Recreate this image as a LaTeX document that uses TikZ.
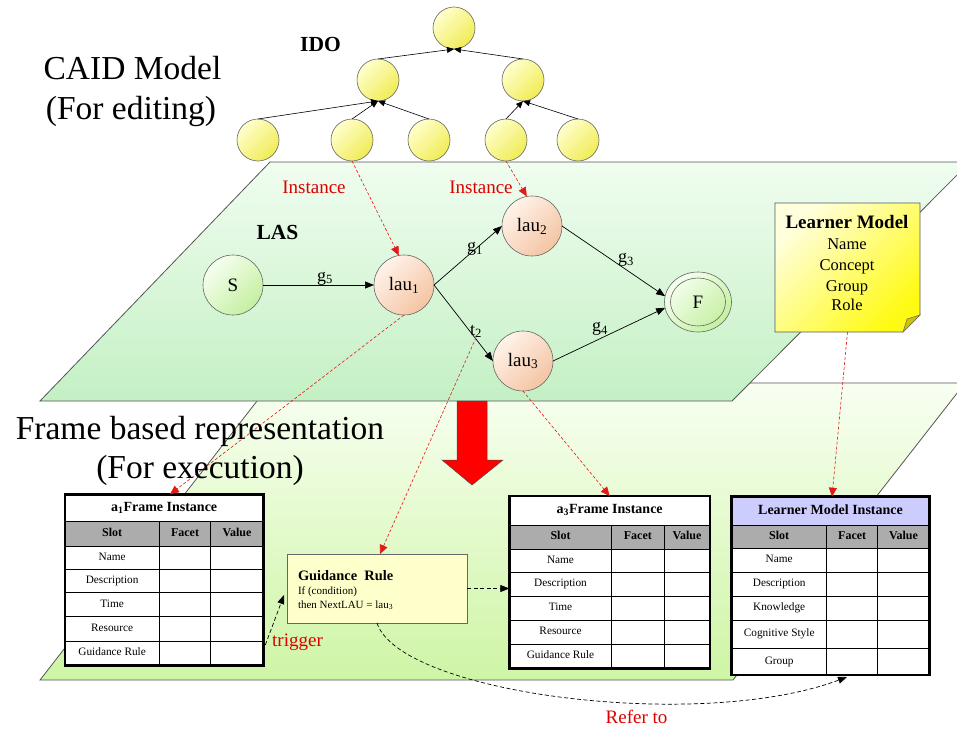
\documentclass[tikz,border=0pt]{standalone}
\usepackage{fontspec}
\setmainfont{Liberation Serif}
\usetikzlibrary{arrows.meta,shapes.geometric}
\definecolor{linkred}{RGB}{225,25,25}
\definecolor{txtred}{RGB}{220,0,0}
\definecolor{planeedge}{RGB}{85,85,85}
\definecolor{upA}{RGB}{240,253,240}
\definecolor{upB}{RGB}{196,240,196}
\definecolor{loA}{RGB}{248,255,242}
\definecolor{loB}{RGB}{206,245,165}
\definecolor{yelA}{RGB}{255,255,205}
\definecolor{yelB}{RGB}{240,236,85}
\definecolor{peachA}{RGB}{255,243,234}
\definecolor{peachB}{RGB}{244,196,162}
\definecolor{greenA}{RGB}{246,255,240}
\definecolor{greenB}{RGB}{196,240,160}
\definecolor{noteA}{RGB}{255,255,222}
\definecolor{noteB}{RGB}{255,250,20}
\definecolor{flapcol}{RGB}{205,195,0}
\definecolor{rulefill}{RGB}{255,255,204}
\definecolor{headgray}{RGB}{172,172,172}
\definecolor{lavender}{RGB}{204,204,255}
\definecolor{bigred}{RGB}{255,0,0}
\begin{document}
\begin{tikzpicture}[x=1pt,y=-1pt,
  every node/.style={inner sep=0pt,outer sep=0pt},
  ido/.style={circle,minimum size=42pt,draw=black!60,line width=0.6pt,top color=yelA,bottom color=yelB,shading angle=45},
  lau/.style={circle,minimum size=60pt,draw=black!60,line width=0.6pt,top color=peachA,bottom color=peachB,shading angle=45,font=\fontsize{19}{19}\selectfont},
  startpt/.style={circle,minimum size=60pt,draw=black!60,line width=0.6pt,top color=greenA,bottom color=greenB,shading angle=45,font=\fontsize{19}{19}\selectfont},
  finalpt/.style={ellipse,minimum width=67pt,minimum height=60pt,draw=black!60,line width=0.6pt,top color=greenA,bottom color=greenB,shading angle=45,font=\fontsize{19}{19}\selectfont},
  treeedge/.style={-{Triangle[length=7pt,width=6pt]},line width=0.6pt},
  lasedge/.style={-{Triangle[length=9pt,width=7pt]},line width=0.7pt},
  redlink/.style={draw=linkred,dash pattern=on 3pt off 2pt,line width=0.6pt,-{Triangle[length=9pt,width=8pt]}},
  blklink/.style={dash pattern=on 4pt off 2.5pt,line width=0.7pt,-{Triangle[length=9pt,width=7pt]}},
  elabel/.style={anchor=base,font=\fontsize{18}{18}\selectfont},
  redtxt/.style={anchor=base,text=txtred,font=\fontsize{19}{19}\selectfont},
  bigtxt/.style={anchor=base,font=\fontsize{33.5}{38}\selectfont},
  boldlbl/.style={anchor=base,font=\fontsize{21.5}{22}\selectfont\bfseries},
  cell/.style={font=\fontsize{11.3}{12}\selectfont,text height=7.6pt,text depth=2.4pt},
  headcell/.style={font=\fontsize{12}{13}\selectfont\bfseries,text height=8pt,text depth=2.4pt},
  tabtitle/.style={font=\fontsize{14}{15}\selectfont\bfseries,text height=9.5pt,text depth=3pt},
  tabbox/.style={fill=white},
  rule/.style={line width=0.8pt},
  tabborder/.style={line width=2.6pt},
  plane/.style={draw=planeedge,line width=0.8pt},
]
\clip (0,0) rectangle (957,728);
\fill[white] (0,0) rectangle (957,728);

% the two layers
\path[plane,top color=loA,bottom color=loB] (271,383) -- (965,383) -- (733,680) -- (40,680) -- cycle;
\path[plane,top color=upA,bottom color=upB] (270,162) -- (970,162) -- (732,401) -- (40,401) -- cycle;

% arrow between the layers
\path[fill=bigred,draw=black!70,line width=0.5pt] (457,401) -- (487,401) -- (487,460) -- (503,460) -- (472,485) -- (442,460) -- (457,460) -- cycle;

% IDO tree
\node[ido] (root) at (454,28) {};
\node[ido] (m1) at (378,80) {};
\node[ido] (m2) at (523,80) {};
\node[ido] (c1) at (258,140) {};
\node[ido] (c2) at (352,140) {};
\node[ido] (c3) at (429,140) {};
\node[ido] (c4) at (506,140) {};
\node[ido] (c5) at (578,140) {};
\draw[treeedge] (m1.north) -- (root.south);
\draw[treeedge] (m2.north) -- (root.south);
\draw[treeedge] (c1.north) -- (m1.south);
\draw[treeedge] (c2.north) -- (m1.south);
\draw[treeedge] (c3.north) -- (m1.south);
\draw[treeedge] (c4.north) -- (m2.south);
\draw[treeedge] (c5.north) -- (m2.south);
\node[boldlbl] (ido) at (320.5,51.7) {IDO};

% learning activity sequence
\node[startpt] (S) at (233,285) {S};
\node[lau] (lau1) at (404,285) {lau\textsubscript{1}};
\node[lau] (lau2) at (532,226) {lau\textsubscript{2}};
\node[lau] (lau3) at (523,361) {lau\textsubscript{3}};
\node[finalpt] (F) at (698,302) {F};
\draw[line width=0.6pt,draw=black!60] (F.center) ellipse [x radius=27.5pt,y radius=24pt];
\draw[lasedge] (S.east) -- (lau1.west);
\draw[lasedge] (lau1.east) -- (lau2.west);
\draw[lasedge] (lau1.east) -- (lau3.west);
\draw[lasedge] (lau2.east) -- (F.170);
\draw[lasedge] (lau3.east) -- (F.190);
\node[elabel] (lg5) at (325,281) {g\textsubscript{5}};
\node[elabel] (lg1) at (475,251.7) {g\textsubscript{1}};
\node[elabel] (lg3) at (626,262.7) {g\textsubscript{3}};
\node[elabel] (lt2) at (476,335) {t\textsubscript{2}};
\node[elabel] (lg4) at (600,331.7) {g\textsubscript{4}};
\node[boldlbl] (las) at (277.5,239) {LAS};
\node[redtxt] (inst1) at (314,193.3) {Instance};
\node[redtxt] (inst2) at (481,193.3) {Instance};

% learner model note
\node[minimum width=145pt,minimum height=129pt] (lmnote) at (847.5,267.5) {};
\path[draw=black!65,line width=0.6pt,top color=noteA,bottom color=noteB,shading angle=45]
  (lmnote.north west) -- (lmnote.north east) -- ([yshift=17pt]lmnote.south east)
  -- ([xshift=-17pt]lmnote.south east) -- (lmnote.south west) -- cycle;
\path[fill=flapcol,draw=black!60,line width=0.5pt] ([xshift=-17pt]lmnote.south east)
  -- ([xshift=-13pt,yshift=13pt]lmnote.south east) -- ([yshift=17pt]lmnote.south east) -- cycle;
\node[anchor=base,font=\fontsize{19}{19}\selectfont\bfseries] (lm0) at (847,228) {Learner Model};
\node[anchor=base,font=\fontsize{16.5}{17}\selectfont] (lm1) at (847,249) {Name};
\node[anchor=base,font=\fontsize{16.5}{17}\selectfont] (lm2) at (847,270) {Concept};
\node[anchor=base,font=\fontsize{16.5}{17}\selectfont] (lm3) at (847,291) {Group};
\node[anchor=base,font=\fontsize{16.5}{17}\selectfont] (lm4) at (847,310) {Role};

% a1 frame table
\node[tabbox,minimum width=198.3pt,minimum height=171.4pt] (ta1) at (164.15,580) {};
\fill[headgray] (65,521.7) rectangle (263.3,546);
\draw[rule] (65,521.7) -- (263.3,521.7) (65,546) -- (263.3,546)
  (159.3,521.7) -- (159.3,665.7) (210.7,521.7) -- (210.7,665.7);
\node[tabtitle] (ta1-title) at (164.15,508) {a\textsubscript{1}Frame Instance};
\node[headcell] (ta1-slot) at (112.15,533.85) {Slot};
\node[headcell] (ta1-facet) at (185,533.85) {Facet};
\node[headcell] (ta1-value) at (237,533.85) {Value};
\foreach \ya/\yb/\txt [count=\i] in {546/569/Name,569/592.7/Description,592.7/616.7/Time,616.7/641/Resource,641/665.7/Guidance Rule}{
  \node[cell] (ta1-r\i) at (112.15,{(\ya+\yb)/2}) {\txt};
  \draw[rule] (65,\yb) -- (263.3,\yb);
}
\draw[tabborder] (ta1.north west) rectangle (ta1.south east);

% a3 frame table
\node[tabbox,minimum width=200.7pt,minimum height=172.3pt] (ta3) at (609.65,582.15) {};
\fill[headgray] (509.3,525) rectangle (710,549);
\draw[rule] (509.3,525) -- (710,525) (509.3,549) -- (710,549)
  (611.7,525) -- (611.7,668.3) (664,525) -- (664,668.3);
\node[tabtitle] (ta3-title) at (609.65,510.5) {a\textsubscript{3}Frame Instance};
\node[headcell] (ta3-slot) at (560.5,537) {Slot};
\node[headcell] (ta3-facet) at (637.85,537) {Facet};
\node[headcell] (ta3-value) at (687,537) {Value};
\foreach \ya/\yb/\txt [count=\i] in {549/572.3/Name,572.3/596.3/Description,596.3/620.3/Time,620.3/644.3/Resource,644.3/668.3/Guidance Rule}{
  \node[cell] (ta3-r\i) at (560.5,{(\ya+\yb)/2}) {\txt};
  \draw[rule] (509.3,\yb) -- (710,\yb);
}
\draw[tabborder] (ta3.north west) rectangle (ta3.south east);

% learner model instance table
\node[tabbox,minimum width=197.6pt,minimum height=178.3pt] (tlm) at (830.5,585.85) {};
\fill[lavender] (731.7,496.7) rectangle (929.3,525);
\fill[headgray] (731.7,525) rectangle (929.3,548.3);
\draw[rule] (731.7,525) -- (929.3,525) (731.7,548.3) -- (929.3,548.3)
  (826.7,525) -- (826.7,675) (877.7,525) -- (877.7,675);
\node[tabtitle] (tlm-title) at (830.5,510.85) {Learner Model Instance};
\node[headcell] (tlm-slot) at (779.2,536.65) {Slot};
\node[headcell] (tlm-facet) at (852.2,536.65) {Facet};
\node[headcell] (tlm-value) at (903.5,536.65) {Value};
\foreach \ya/\yb/\txt [count=\i] in {548.3/572.3/Name,572.3/596.3/Description,596.3/620.3/Knowledge,620.3/648.3/Cognitive Style,648.3/675/Group}{
  \node[cell] (tlm-r\i) at (779.2,{(\ya+\yb)/2}) {\txt};
  \draw[rule] (731.7,\yb) -- (929.3,\yb);
}
\draw[tabborder] (tlm.north west) rectangle (tlm.south east);

% guidance rule
\node[draw=black!60,fill=rulefill,line width=0.7pt,minimum width=180pt,minimum height=69pt] (gr) at (377,588.5) {};
\node[anchor=base west,font=\fontsize{14.4}{15}\selectfont\bfseries] (gr-t) at (298,580) {Guidance~~Rule};
\node[anchor=base west,font=\fontsize{11}{12}\selectfont] (gr-if) at (298,594) {If (condition)};
\node[anchor=base west,font=\fontsize{11}{12}\selectfont] (gr-then) at (298,608) {then NextLAU = lau\textsubscript{3}};

% instance links
\draw[redlink] (c2.south) -- (lau1.100);
\draw[redlink] (c4.south) -- (lau2.100);
\draw[redlink] (lau1.south) -- ([xshift=5.85pt]ta1.north);
\draw[redlink] (lt2.south) -- ([xshift=3pt]gr.north);
\draw[redlink] (lau3.south) -- (ta3.north);
\draw[redlink] (lmnote.south) -- ([xshift=1.5pt]tlm.north);

% execution links
\draw[blklink] ([xshift=2pt,yshift=-65pt]ta1.east) -- ([xshift=-3pt,yshift=-6.5pt]gr.west);
\draw[blklink] (gr.east) -- (gr.east -| ta3.west);
\draw[blklink] (gr.south) .. controls (400,694) and (700,732) .. ([xshift=16.5pt,yshift=-2pt]tlm.south);
\node[redtxt] (trig) at (297.5,646.7) {trigger};
\node[redtxt] (refer) at (636.5,723) {Refer to};

% layer captions
\node[bigtxt] (cap1) at (132.5,79) {CAID Model};
\node[bigtxt] (cap2) at (131,119.3) {(For editing)};
\node[bigtxt] (cap3) at (200,439) {Frame based representation};
\node[bigtxt] (cap4) at (200,478) {(For execution)};
\end{tikzpicture}
\end{document}
